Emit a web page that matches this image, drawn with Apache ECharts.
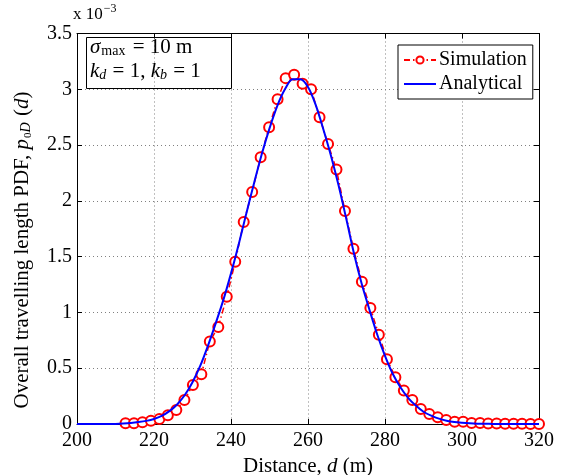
<!DOCTYPE html>
<html>
<head>
<meta charset="utf-8">
<script src="https://cdn.jsdelivr.net/npm/echarts@6/dist/echarts.min.js"></script>
<style>
html,body{margin:0;padding:0;background:#fff;}
#c{width:569px;height:475px;}
</style>
</head>
<body>
<div id="c"></div>
<script>
// Simulation (markers), distance in m, PDF in units of 1e-3
const simD = [212.6, 214.8, 217.0, 219.2, 221.4, 223.6, 225.8, 227.9, 230.1, 232.3,
  234.5, 236.7, 238.9, 241.1, 243.3, 245.5, 247.7, 249.9, 252.1, 254.2,
  256.4, 258.6, 260.8, 263.0, 265.2, 267.4, 269.6, 271.8, 274.0, 276.2,
  278.4, 280.5, 282.7, 284.9, 287.1, 289.3, 291.5, 293.7, 295.9, 298.1,
  300.3, 302.5, 304.7, 306.8, 309.0, 311.2, 313.4, 315.6, 317.8, 320.0];
const simP = [0.006, 0.006, 0.015, 0.03, 0.045, 0.078, 0.125, 0.215, 0.35, 0.445,
  0.74, 0.87, 1.14, 1.455, 1.81, 2.08, 2.39, 2.66, 2.91, 3.10,
  3.13, 3.05, 3.00, 2.75, 2.51, 2.28, 1.91, 1.57, 1.275, 1.04,
  0.80, 0.58, 0.42, 0.30, 0.215, 0.135, 0.09, 0.06, 0.035, 0.02,
  0.02, 0.01, 0.008, 0.005, 0.005, 0.003, 0.002, 0.002, 0.001, 0.001];
// Analytical curve
const anaD = [200,202,204,206,208,210,212,214,216,218,220,222,224,226,228,230,232,234,236,238,
  240,242,244,246,248,250,252,254,256,258,260,262,264,266,268,270,272,274,276,278,
  280,282,284,286,288,290,292,294,296,298,300,302,304,306,308,310,312,314,316,318,320];
const anaP = [0,0,0,0,0,0.001,0.004,0.009,0.017,0.028,0.045,0.072,0.115,0.175,0.26,0.375,0.52,0.70,0.90,1.11,
  1.35,1.61,1.89,2.16,2.42,2.65,2.85,3.00,3.09,3.09,3.02,2.86,2.64,2.40,2.13,1.83,1.52,1.25,1.02,0.80,
  0.61,0.45,0.33,0.235,0.165,0.11,0.075,0.048,0.030,0.018,0.011,0.006,0.003,0.002,0.001,0.0005,0,0,0,0,0];
const xTicks = [200, 220, 240, 260, 280, 300, 320];
const yTicks = [0, 0.5, 1, 1.5, 2, 2.5, 3, 3.5];

const FF = '"Liberation Serif","Times New Roman",serif';
const chart = echarts.init(document.getElementById('c'), null, {renderer: 'canvas'});
const grid = {left: 77, right: 30, top: 33.5, bottom: 51, outerBoundsMode: 'none', containLabel: false};
const split = {show: true, lineStyle: {color: '#808080', type: [1, 3], width: 1}};
const tick = {show: true, inside: true, length: 5, lineStyle: {color: '#000'}};
const line = {show: true, onZero: false, lineStyle: {color: '#000', width: 1}};

chart.setOption({
  animation: false,
  backgroundColor: '#fff',
  grid: grid,
  xAxis: [{
    type: 'value', min: xTicks[0], max: xTicks[xTicks.length - 1], interval: 20,
    position: 'bottom',
    axisLine: line, axisTick: tick, splitLine: split,
    axisLabel: {fontFamily: FF, fontSize: 20, color: '#000', margin: 7},
    name: '{n|Distance, }{i|d}{n| (m)}', nameLocation: 'middle', nameGap: 28,
    nameTextStyle: {rich: {n: {fontFamily: FF, fontSize: 21, color: '#000'},
      i: {fontFamily: FF, fontSize: 21, fontStyle: 'italic', color: '#000'}}}
  }, {
    type: 'value', min: xTicks[0], max: xTicks[xTicks.length - 1], interval: 20,
    position: 'top',
    axisLine: line, axisTick: tick, splitLine: {show: false}, axisLabel: {show: false}
  }],
  yAxis: [{
    type: 'value', min: yTicks[0], max: yTicks[yTicks.length - 1], interval: 0.5,
    position: 'left',
    axisLine: line, axisTick: tick, splitLine: split,
    axisLabel: {fontFamily: FF, fontSize: 20, color: '#000', margin: 5}
  }, {
    type: 'value', min: yTicks[0], max: yTicks[yTicks.length - 1], interval: 0.5,
    position: 'right',
    axisLine: line, axisTick: tick, splitLine: {show: false}, axisLabel: {show: false}
  }],
  legend: {
    orient: 'vertical', left: 398, top: 45,
    data: [{name: 'Simulation', itemStyle: {borderWidth: 1.5}}, {name: 'Analytical', itemStyle: {opacity: 0}}],
    itemWidth: 32, itemHeight: 9, itemGap: 4,
    padding: [5, 6, 5, 5],
    borderColor: '#000', borderWidth: 1, borderRadius: 0, backgroundColor: '#fff',
    textStyle: {fontFamily: FF, fontSize: 20, color: '#000', padding: [0, 0, 0, -2]}
  },
  series: [{
    name: 'Simulation', type: 'line',
    data: simD.map((d, i) => [d, simP[i]]),
    symbol: 'emptyCircle', symbolSize: 10,
    itemStyle: {color: '#ff0000', borderColor: '#ff0000', borderWidth: 2},
    lineStyle: {color: '#ff0000', width: 1.5, type: [6, 3, 1.5, 3]},
    z: 2
  }, {
    name: 'Analytical', type: 'line',
    data: anaD.map((d, i) => [d, anaP[i]]),
    symbol: 'none', smooth: 0.3,
    itemStyle: {color: '#0000ff'},
    lineStyle: {color: '#0000ff', width: 2},
    z: 3
  }],
  graphic: [
    {type: 'rect', shape: {x: 86.5, y: 37.5, width: 145, height: 51},
      style: {fill: 'none', stroke: '#000', lineWidth: 1}, z: 10},
    {type: 'text', x: 90, y: 47, z: 11, style: {
      text: '{i|σ}{s|max}{n| = 10 m}', verticalAlign: 'middle',
      rich: {i: {fontFamily: FF, fontSize: 21, fontStyle: 'italic', fill: '#000'},
        s: {fontFamily: FF, fontSize: 14, fill: '#000', padding: [9, 2, 0, 1]},
        n: {fontFamily: FF, fontSize: 21, fill: '#000'}}}},
    {type: 'text', x: 90, y: 71, z: 11, style: {
      text: '{i|k}{s|d}{n| = 1, }{i|k}{s|b}{n| = 1}', verticalAlign: 'middle',
      rich: {i: {fontFamily: FF, fontSize: 21, fontStyle: 'italic', fill: '#000'},
        s: {fontFamily: FF, fontSize: 14, fontStyle: 'italic', fill: '#000', padding: [9, 1, 0, 0]},
        n: {fontFamily: FF, fontSize: 21, fill: '#000'}}}},
    {type: 'text', x: 73, y: 15, z: 11, style: {
      text: '{n|x 10}{s|−3}', verticalAlign: 'middle',
      rich: {n: {fontFamily: FF, fontSize: 17, fill: '#000'},
        s: {fontFamily: FF, fontSize: 12, fill: '#000', padding: [0, 0, 12, 1]}}}},
    {type: 'text', x: 22, y: 250, rotation: Math.PI / 2, z: 11, style: {
      text: '{n|Overall travelling length PDF, }{i|p}{s|0}{si|D}{n| (}{i|d}{n|)}',
      align: 'center', verticalAlign: 'middle',
      rich: {n: {fontFamily: FF, fontSize: 21, fill: '#000'},
        i: {fontFamily: FF, fontSize: 21, fontStyle: 'italic', fill: '#000'},
        s: {fontFamily: FF, fontSize: 11, fill: '#000', padding: [12, 0, 0, 1]},
        si: {fontFamily: FF, fontSize: 14, fontStyle: 'italic', fill: '#000', padding: [9, 1, 0, 0]}}}}
  ]
});
</script>
</body>
</html>
